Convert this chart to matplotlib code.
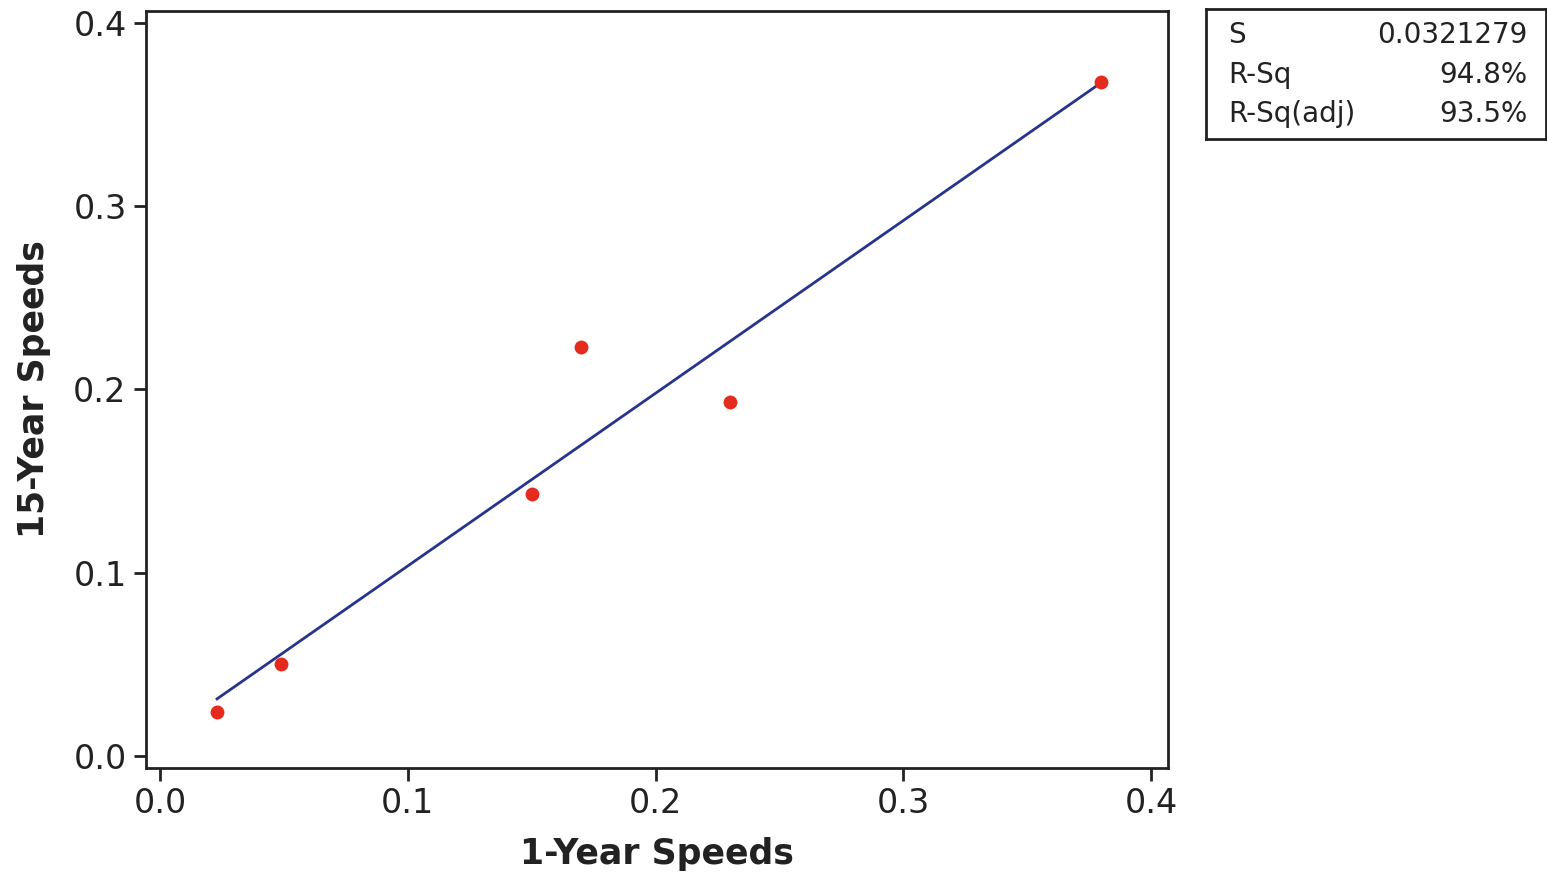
import numpy as np
import matplotlib.pyplot as plt

# data
one_year = [0.023, 0.049, 0.150, 0.170, 0.230, 0.380]
fifteen_year = [0.024, 0.050, 0.143, 0.223, 0.193, 0.368]
ticks = [0.0, 0.1, 0.2, 0.3, 0.4]
stat_names = ['S', 'R-Sq', 'R-Sq(adj)']
stat_values = ['0.0321279', '94.8%', '93.5%']

# fitted line
slope, intercept = np.polyfit(one_year, fifteen_year, 1)
x_line = np.array([min(one_year), max(one_year)])
y_line = slope * x_line + intercept

fig = plt.figure(figsize=(15.47, 8.77), dpi=100)
ax = fig.add_axes([0.0944, 0.1243, 0.6606, 0.8632])

ax.plot(x_line, y_line, color='#26348f', linewidth=2)
ax.plot(one_year, fifteen_year, 'o', color='#e52b1e', markersize=10, markeredgewidth=0)

ax.set_xlim(-0.00565, 0.40686)
ax.set_ylim(-0.00655, 0.40655)
ax.set_xticks(ticks)
ax.set_yticks(ticks)
ax.set_xticklabels(['%.1f' % t for t in ticks])
ax.set_yticklabels(['%.1f' % t for t in ticks])
ax.tick_params(direction='out', length=9, width=2, labelsize=24, color='#222222', labelcolor='#222222', pad=5)
for sp in ax.spines.values():
    sp.set_linewidth(2)
    sp.set_color('#222222')

ax.set_xlabel('1-Year Speeds', fontsize=25, fontweight='bold', color='#222222', labelpad=12)
ax.set_ylabel('15-Year Speeds', fontsize=25, fontweight='bold', color='#222222', labelpad=16)

# stats box
box = fig.add_axes([0.7796, 0.8415, 0.2198, 0.1482])
box.set_xticks([])
box.set_yticks([])
for sp in box.spines.values():
    sp.set_linewidth(2)
    sp.set_color('#222222')
for i, (name, val) in enumerate(zip(stat_names, stat_values)):
    yy = 0.8 - i * 0.305
    box.text(0.065, yy, name, fontsize=20, va='center', ha='left', color='#222222', transform=box.transAxes)
    box.text(0.945, yy, val, fontsize=20, va='center', ha='right', color='#222222', transform=box.transAxes)

fig.savefig('out.png', dpi=100)
